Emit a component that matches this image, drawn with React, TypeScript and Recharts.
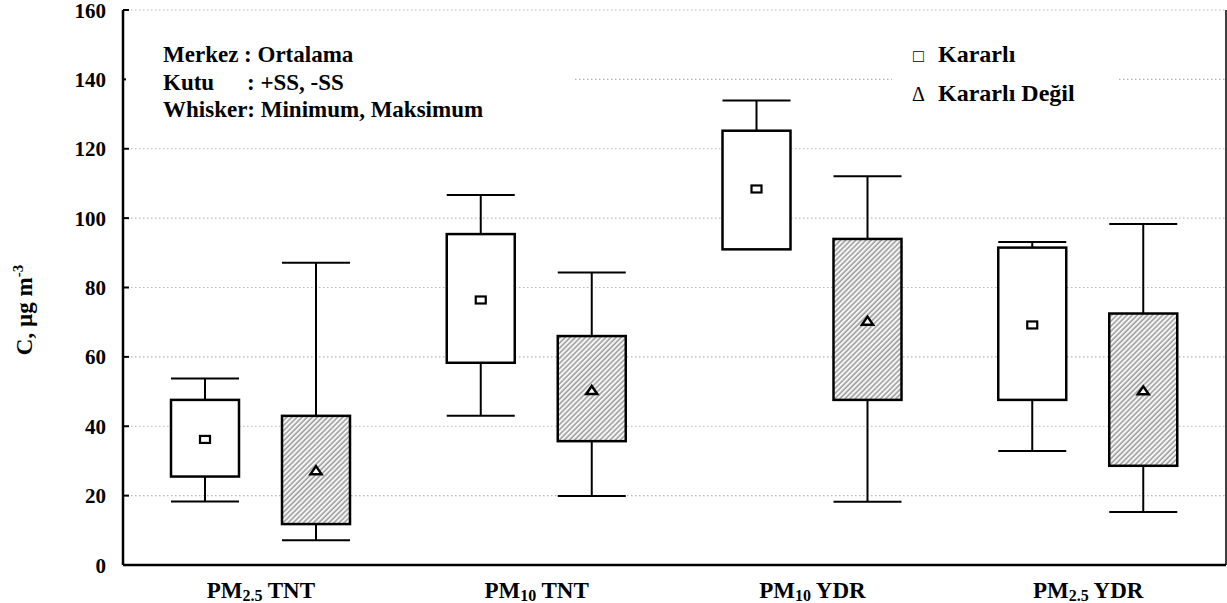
import { ComposedChart, Bar, XAxis, YAxis, CartesianGrid } from 'recharts'

const categories = ['PM2.5 TNT', 'PM10 TNT', 'PM10 YDR', 'PM2.5 YDR']

// Kararlı (stable)
const stableMean = [36.2, 76.4, 108.4, 69.2]
const stableHi = [47.6, 95.4, 125.2, 91.5]
const stableLo = [25.5, 58.3, 91.0, 47.6]
const stableMax = [53.8, 106.7, 133.9, 93.1]
const stableMin = [18.3, 43.0, 96.1, 32.9]

// Kararlı Değil (unstable)
const unstableMean = [27.2, 50.3, 70.3, 50.2]
const unstableHi = [43.0, 66.0, 94.0, 72.5]
const unstableLo = [11.8, 35.7, 47.6, 28.6]
const unstableMax = [87.1, 84.3, 112.1, 98.3]
const unstableMin = [7.1, 19.9, 18.2, 15.3]

const yTicks = [0, 20, 40, 60, 80, 100, 120, 140, 160]
const boundaryTicks = [1, 2, 3]

const W = 1227
const H = 603
const PLOT_LEFT = 123
const PLOT_RIGHT = 1226
const PLOT_TOP = 10
const PLOT_BOTTOM = 565
const FONT = 'Liberation Serif, Times New Roman, Times, serif'

interface Stat {
  mean: number
  hi: number
  lo: number
  max: number
  min: number
}

const data = categories.map((name, i) => ({
  name,
  s: { mean: stableMean[i], hi: stableHi[i], lo: stableLo[i], max: stableMax[i], min: stableMin[i] },
  u: { mean: unstableMean[i], hi: unstableHi[i], lo: unstableLo[i], max: unstableMax[i], min: unstableMin[i] },
}))

const range = (st: Stat) => [Math.min(st.min, st.lo), Math.max(st.max, st.hi)]

const BoxShape = (props: any) => {
  const { x, y, width, height, stat, fill, marker } = props
  const st: Stat = stat
  const [lo, hi] = range(st)
  const top = Math.min(y, y + height)
  const h = Math.abs(height)
  const k = h / (hi - lo)
  const py = (v: number) => top + (hi - v) * k
  const cx = x + width / 2
  const m = py(st.mean)
  return (
    <g>
      <line x1={cx} x2={cx} y1={py(st.max)} y2={py(st.hi)} stroke="#000" strokeWidth={2} />
      <line x1={cx} x2={cx} y1={py(st.lo)} y2={py(st.min)} stroke="#000" strokeWidth={2} />
      <line x1={x} x2={x + width} y1={py(st.max)} y2={py(st.max)} stroke="#000" strokeWidth={2} />
      <line x1={x} x2={x + width} y1={py(st.min)} y2={py(st.min)} stroke="#000" strokeWidth={2} />
      <rect x={x} y={py(st.hi)} width={width} height={py(st.lo) - py(st.hi)} fill={fill} stroke="#000" strokeWidth={2.5} />
      {marker === 'square' ? (
        <rect x={cx - 5} y={m - 3.5} width={10} height={7} fill="#fff" stroke="#000" strokeWidth={2.2} />
      ) : (
        <polygon points={`${cx},${m - 4.5} ${cx + 5.5},${m + 3.5} ${cx - 5.5},${m + 3.5}`} fill="#fff" stroke="#000" strokeWidth={2.5} />
      )}
    </g>
  )
}

const YTickLeft = (props: any) => {
  const { y, payload } = props
  return (
    <g>
      <line x1={PLOT_LEFT} x2={PLOT_LEFT + 6} y1={y} y2={y} stroke="#000" strokeWidth={2} />
      <text x={106} y={y} dy={7.5} textAnchor="end" style={{ fontFamily: FONT, fontWeight: 'bold', fontSize: 21 }} fill="#000">
        {payload.value}
      </text>
    </g>
  )
}

const YTickRight = (props: any) => {
  const { y } = props
  return <line x1={PLOT_RIGHT} x2={PLOT_RIGHT - 6} y1={y} y2={y} stroke="#000" strokeWidth={2} />
}

const BoundaryTick = (props: any) => {
  const { x } = props
  return (
    <g>
      <line x1={x} x2={x} y1={PLOT_TOP} y2={PLOT_TOP + 6} stroke="#000" strokeWidth={2} />
      <line x1={x} x2={x} y1={PLOT_BOTTOM} y2={PLOT_BOTTOM - 6} stroke="#000" strokeWidth={2} />
    </g>
  )
}

const XTick = (props: any) => {
  const { x, payload } = props
  const mt = /^PM([\d.]+) (.*)$/.exec(payload.value)
  const sub = mt ? mt[1] : ''
  const rest = mt ? mt[2] : payload.value
  return (
    <text x={x} y={598} textAnchor="middle" style={{ fontFamily: FONT, fontWeight: 'bold', fontSize: 23 }} fill="#000">
      PM
      <tspan style={{ fontSize: 16 }} dy={3}>{sub}</tspan>
      <tspan dy={-3}>{' ' + rest}</tspan>
    </text>
  )
}

export default function App() {
  return (
    <div style={{ position: 'absolute', left: 0, top: 0, width: W, height: H, background: '#fff', fontFamily: FONT }}>
      <ComposedChart width={W} height={H} data={data} margin={{ top: PLOT_TOP, right: 0, left: 63, bottom: 8 }} barSize={68} barGap={43}>
        <defs>
          <pattern id="hatch" patternUnits="userSpaceOnUse" width={3.6} height={3.6} patternTransform="rotate(45)">
            <rect width={3.6} height={3.6} fill="#f6f6f6" />
            <line x1={1} x2={1} y1={0} y2={3.6} stroke="#8c8c8c" strokeWidth={1.3} />
          </pattern>
        </defs>
        <CartesianGrid vertical={false} stroke="#b8b8b8" strokeDasharray="1.5 2.5" strokeWidth={1.2} />
        <XAxis dataKey="name" height={30} interval={0} axisLine={{ stroke: '#000', strokeWidth: 2.5 }} tickLine={false} tick={<XTick />} />
        <XAxis xAxisId="top" orientation="top" type="number" domain={[0, 4]} ticks={boundaryTicks} height={0} axisLine={{ stroke: '#000', strokeWidth: 2.5 }} tickLine={false} tick={<BoundaryTick />} allowDataOverflow />
        <YAxis domain={[0, 160]} ticks={yTicks} width={60} axisLine={{ stroke: '#000', strokeWidth: 2.5 }} tickLine={false} tick={<YTickLeft />} interval={0} />
        <YAxis yAxisId="r" orientation="right" domain={[0, 160]} ticks={yTicks} width={1} axisLine={{ stroke: '#000', strokeWidth: 1.5 }} tickLine={false} tick={<YTickRight />} interval={0} />
        <Bar
          dataKey={(d: any) => range(d.s)}
          isAnimationActive={false}
          shape={(p: any) => <BoxShape {...p} stat={p.payload.s} fill="#fff" marker="square" />}
        />
        <Bar
          dataKey={(d: any) => range(d.u)}
          isAnimationActive={false}
          shape={(p: any) => <BoxShape {...p} stat={p.payload.u} fill="url(#hatch)" marker="triangle" />}
        />
      </ComposedChart>
      <svg width={W} height={H} style={{ position: 'absolute', left: 0, top: 0, pointerEvents: 'none' }}>
        <rect x={126} y={30} width={449} height={95} fill="#fff" />
        <rect x={892} y={35} width={225} height={80} fill="#fff" />
        <g style={{ fontFamily: FONT, fontWeight: 'bold', fontSize: 23 }} fill="#000">
          <text x={163} y={62}>Merkez : Ortalama</text>
          <text x={163} y={90}>Kutu</text>
          <text x={247} y={90}>: +SS, -SS</text>
          <text x={163} y={117}>Whisker: Minimum, Maksimum</text>
          <text x={913} y={62} style={{ fontSize: 18, fontWeight: 'normal' }}>□</text>
          <text x={938} y={62} style={{ fontSize: 24 }}>Kararlı</text>
          <text x={912} y={101} style={{ fontSize: 20, fontWeight: 'normal' }}>Δ</text>
          <text x={938} y={101} style={{ fontSize: 24 }}>Kararlı Değil</text>
          <text transform="translate(32, 310) rotate(-90)" textAnchor="middle">
            C, µg m<tspan style={{ fontSize: 15 }} dy={-9}>-3</tspan>
          </text>
        </g>
      </svg>
    </div>
  )
}
